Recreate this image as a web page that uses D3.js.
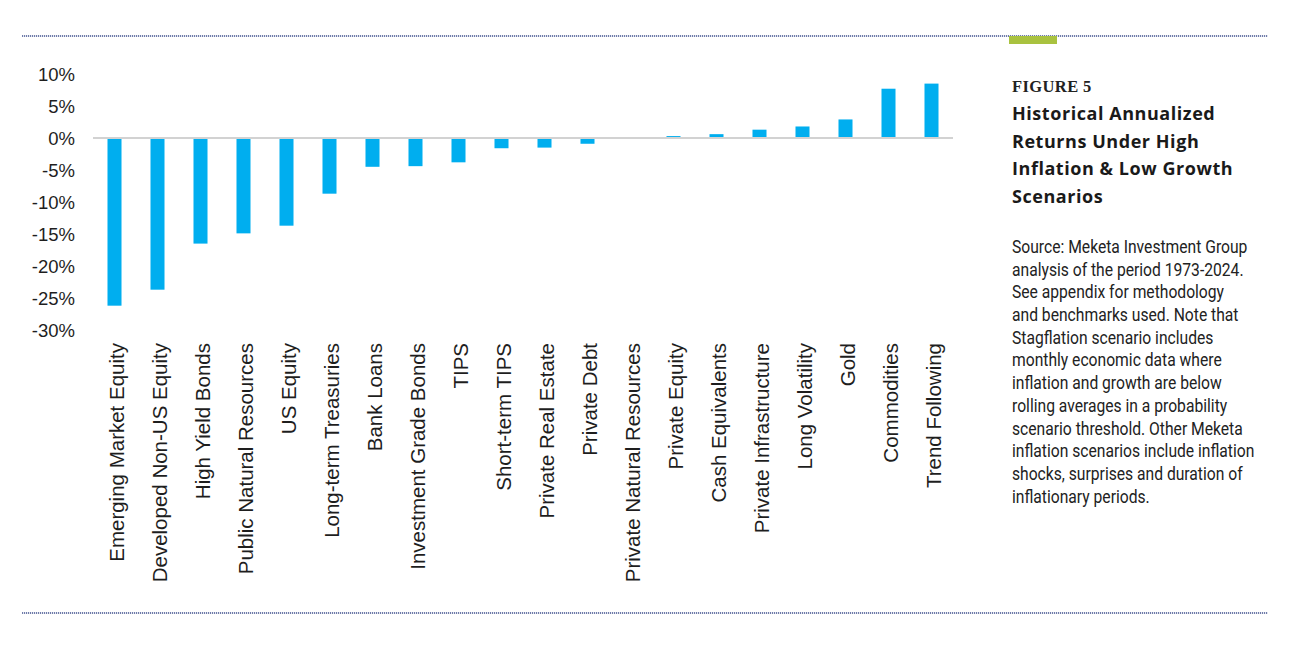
<!DOCTYPE html>
<html>
<head>
<meta charset="utf-8">
<script src="https://cdn.jsdelivr.net/npm/d3@7"></script>
<style>
  body { margin: 0; background: white; }
  svg { display: block; }
</style>
</head>
<body>
<div id="bigdiv"></div>
<script>
// asset classes, ordered as in the figure
var categories = ['Emerging Market Equity', 'Developed Non-US Equity', 'High Yield Bonds',
    'Public Natural Resources', 'US Equity', 'Long-term Treasuries', 'Bank Loans',
    'Investment Grade Bonds', 'TIPS', 'Short-term TIPS', 'Private Real Estate', 'Private Debt',
    'Private Natural Resources', 'Private Equity', 'Cash Equivalents', 'Private Infrastructure',
    'Long Volatility', 'Gold', 'Commodities', 'Trend Following']

// annualized return, percent
var returns = [-26.2, -23.7, -16.5, -14.9, -13.7, -8.7, -4.5,
    -4.4, -3.8, -1.6, -1.5, -0.9,
    0.0, 0.3, 0.6, 1.3,
    1.8, 2.9, 7.7, 8.5]

var yticks = [10, 5, 0, -5, -10, -15, -20, -25, -30]

var figureLabel = 'FIGURE 5'
var titleLines = ['Historical Annualized', 'Returns Under High', 'Inflation & Low Growth', 'Scenarios']
var sourceLines = ['Source: Meketa Investment Group', 'analysis of the period 1973-2024.',
    'See appendix for methodology', 'and benchmarks used. Note that',
    'Stagflation scenario includes', 'monthly economic data where',
    'inflation and growth are below', 'rolling averages in a probability',
    'scenario threshold. Other Meketa', 'inflation scenarios include inflation',
    'shocks, surprises and duration of', 'inflationary periods.']

var W = 1292, H = 653
var barColor = '#00aeef'

let svg = d3.select('div#bigdiv').append('svg')
    .attr('width', W).attr('height', H)

// dotted page rules
let rule = (y) => {
    svg.append('line')
        .attr('x1', 22).attr('x2', 1268).attr('y1', y).attr('y2', y)
        .attr('stroke', '#41518f').attr('stroke-width', 1.4)
        .attr('stroke-dasharray', '1.2,0.8')
}
rule(36)
rule(613)

// green tab under the top rule
svg.append('rect')
    .attr('x', 1009).attr('y', 36).attr('width', 48).attr('height', 8)
    .attr('fill', '#a9c23f')

let x = d3.scaleBand()
    .domain(categories)
    .range([93, 953])
    .paddingInner(0.674)
    .paddingOuter(0.337)

let y = d3.scaleLinear()
    .domain([-30, 10])
    .range([330, 74])

// y axis, labels only
let yaxis = svg.append('g')
    .attr('transform', 'translate(80,0)')
    .call(d3.axisLeft(y).tickValues(yticks).tickSize(0).tickFormat(d => d + '%'))
yaxis.select('.domain').remove()
yaxis.selectAll('text')
    .attr('x', -5)
    .attr('dy', '0.36em')
    .style('font-family', '"Liberation Sans", Arial, sans-serif')
    .style('font-size', '18.5px')
    .attr('fill', '#1e1e1e')

// bars
svg.selectAll('rect.bar')
    .data(returns)
    .enter()
    .append('rect')
    .attr('class', 'bar')
    .attr('x', (d, i) => x(categories[i]))
    .attr('width', x.bandwidth())
    .attr('y', d => y(Math.max(0, d)))
    .attr('height', d => Math.abs(y(d) - y(0)))
    .attr('fill', barColor)

// zero line
svg.append('line')
    .attr('x1', x.range()[0]).attr('x2', x.range()[1])
    .attr('y1', y(0)).attr('y2', y(0))
    .attr('stroke', '#d2d2d2').attr('stroke-width', 2)

// category labels, rotated
svg.selectAll('text.cat')
    .data(categories)
    .enter()
    .append('text')
    .attr('class', 'cat')
    .attr('transform', d => {
        let cx = x(d) + x.bandwidth() / 2 + 2
        return 'translate(' + cx + ',343) rotate(-90)'
    })
    .attr('text-anchor', 'end')
    .attr('dy', '0.35em')
    .style('font-family', '"Liberation Sans", Arial, sans-serif')
    .style('font-size', '20.5px')
    .attr('fill', '#1e1e1e')
    .text(d => d)

// right panel
let panel = svg.append('g').attr('transform', 'translate(1012,0)')

panel.append('text')
    .attr('y', 92)
    .style('font-family', '"Liberation Serif", "DejaVu Serif", serif')
    .style('font-weight', 'bold')
    .style('font-size', '16.5px')
    .style('letter-spacing', '0.4px')
    .attr('fill', '#222')
    .text(figureLabel)

panel.selectAll('text.title')
    .data(titleLines)
    .enter()
    .append('text')
    .attr('class', 'title')
    .attr('y', (d, i) => 120 + i * 27.5)
    .style('font-family', '"Open Sans", sans-serif')
    .style('font-weight', 'bold')
    .style('font-size', '18px')
    .style('letter-spacing', '0.55px')
    .attr('fill', '#1a1a1a')
    .text(d => d)

// source note, squeezed to look condensed
let note = panel.append('g').attr('transform', 'scale(0.87,1)')
note.selectAll('text.source')
    .data(sourceLines)
    .enter()
    .append('text')
    .attr('class', 'source')
    .attr('y', (d, i) => 253 + i * 22.7)
    .style('font-family', 'Roboto, sans-serif')
    .style('font-size', '18px')
    .attr('fill', '#222')
    .text(d => d)
</script>
</body>
</html>
